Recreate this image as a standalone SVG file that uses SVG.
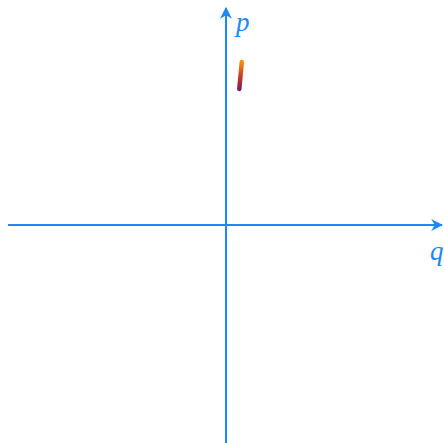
<svg xmlns="http://www.w3.org/2000/svg" width="444" height="443" viewBox="0 0 444 443">
<style>
.axis{stroke:#1e88f5;stroke-width:2;fill:none}
.lbl{font-family:"Liberation Serif","DejaVu Serif",serif;font-style:italic;font-size:27px;fill:#1e88f5}
</style>
<defs>
<marker id="ah" viewBox="0 0 10 10" refX="9" refY="5" markerWidth="6" markerHeight="6" markerUnits="strokeWidth" orient="auto">
<path d="M0,0 L10,5 L0,10 L3,5 Z" fill="#1e88f5"/>
</marker>
<linearGradient id="g" gradientUnits="userSpaceOnUse" x1="0" y1="62" x2="0" y2="89">
<stop offset="0" stop-color="#f5900a"/>
<stop offset="0.5" stop-color="#c8402a"/>
<stop offset="1" stop-color="#7e1e5e"/>
</linearGradient>
</defs>
<g id="connectors">
<line class="axis" x1="8" y1="225" x2="442" y2="225" marker-end="url(#ah)"/>
<line class="axis" x1="226" y1="443" x2="226" y2="8" marker-end="url(#ah)"/>
</g>
<g id="label-p"><text class="lbl" x="236" y="31">p</text></g>
<g id="label-q"><text class="lbl" x="430" y="260">q</text></g>
<g id="curve"><path d="M241.8,62 L239.3,89" stroke="url(#g)" stroke-width="4.5" stroke-linecap="round" fill="none"/></g>
</svg>
